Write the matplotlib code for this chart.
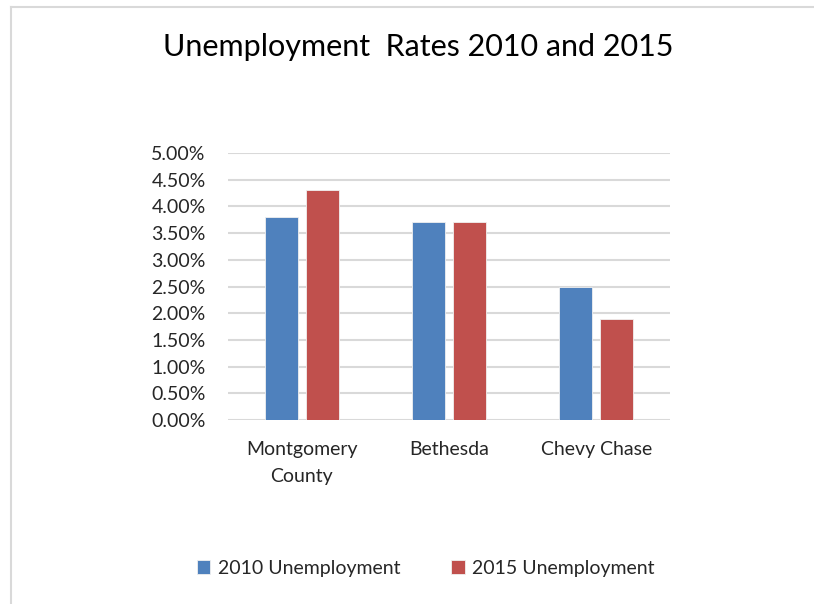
import matplotlib.pyplot as plt
from matplotlib.lines import Line2D
from matplotlib.ticker import FuncFormatter
import numpy as np

categories = ['Montgomery\nCounty', 'Bethesda', 'Chevy Chase']
rate_2010 = [3.8, 3.7, 2.5]
rate_2015 = [4.3, 3.7, 1.9]
series = {'2010 Unemployment': rate_2010, '2015 Unemployment': rate_2015}
colors = ['#4F81BD', '#C0504D']

plt.rcParams['font.family'] = ['Lato', 'DejaVu Sans']

fig = plt.figure(figsize=(8.14, 6.04), dpi=100)
ax = fig.add_axes([0.280, 0.3046, 0.543, 0.4421])

x = np.arange(len(categories))
width = 0.224
offsets = [-0.139, 0.139]
for (name, vals), off, c in zip(series.items(), offsets, colors):
    ax.bar(x + off, vals, width, color=c, edgecolor='#f0f0f0', linewidth=0.6,
           label=name, zorder=3)

ax.set_xlim(-0.5, 2.5)
ax.set_ylim(0, 5)
ax.set_yticks(np.arange(0, 5.01, 0.5))
ax.yaxis.set_major_formatter(FuncFormatter(lambda v, p: f'{v:.2f}%'))
ax.set_xticks(x, categories)
for lbl in ax.get_xticklabels():
    lbl.set_linespacing(1.7)
ax.grid(axis='y', color='#d9d9d9', linewidth=1.5, zorder=0)
for s in ax.spines.values():
    s.set_visible(False)
ax.tick_params(length=0, labelsize=14, colors='#262626')
ax.tick_params(axis='y', pad=16)
ax.tick_params(axis='x', pad=15)

fig.text(0.514, 0.922, 'Unemployment  Rates 2010 and 2015', ha='center', va='center',
         fontsize=22, color='black')

fig.legend(loc='center', bbox_to_anchor=(0.523, 0.059), ncol=2, frameon=False,
           fontsize=14, handlelength=0.7, handleheight=0.7, handletextpad=0.4,
           columnspacing=2.6, labelcolor='#262626')

# chart area border (left and top)
fig.add_artist(Line2D([0.0135, 0.0135], [0, 0.988], color='#d9d9d9', lw=1.5,
                      transform=fig.transFigure))
fig.add_artist(Line2D([0.0135, 1], [0.988, 0.988], color='#d9d9d9', lw=1.5,
                      transform=fig.transFigure))

fig.savefig('out.png', dpi=100)
